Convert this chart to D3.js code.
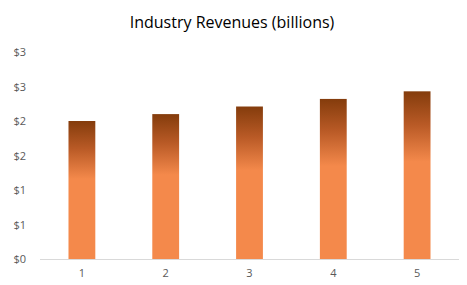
<!DOCTYPE html>
<html>
<head>
<meta charset="utf-8">
<script src="https://cdn.jsdelivr.net/npm/d3@7"></script>
<style>
  body { margin: 0; background: #fff; }
  svg { display: block; }
</style>
</head>
<body>
<svg width="467" height="285"></svg>
<script>
// data
var categories = ['1', '2', '3', '4', '5'];
var revenues = [2.00, 2.10, 2.21, 2.32, 2.43];
var yTicks = [0, 0.5, 1, 1.5, 2, 2.5, 3];
var yTickLabels = ['$0', '$1', '$1', '$2', '$2', '$3', '$3'];
var title = 'Industry Revenues (billions)';

var width = 467;
var height = 285;
var margin = {top: 52, bottom: 26, left: 40, right: 8};

var svg = d3.select('svg');

// gradient for bars
var grad = svg.append('defs').append('linearGradient')
    .attr('id', 'barGrad')
    .attr('x1', 0).attr('y1', 0).attr('x2', 0).attr('y2', 1);
grad.append('stop').attr('offset', '0%').attr('stop-color', '#843c0c');
grad.append('stop').attr('offset', '20%').attr('stop-color', '#b95a26');
grad.append('stop').attr('offset', '42%').attr('stop-color', '#f4894b');
grad.append('stop').attr('offset', '100%').attr('stop-color', '#f4894b');

//scales
var xScale = d3.scaleBand()
    .domain(categories)
    .range([margin.left, width - margin.right])
    .paddingInner(0.68)
    .paddingOuter(0.34);
var yScale = d3.scaleLinear()
    .domain([0, 3])
    .range([height - margin.bottom, margin.top]);

// title
svg.append('text')
    .attr('x', 232)
    .attr('y', 28)
    .attr('text-anchor', 'middle')
    .attr('font-family', 'Open Sans, sans-serif')
    .attr('font-size', 16)
    .attr('fill', '#000')
    .text(title);

// bars
svg.selectAll('rect.bar')
    .data(revenues)
    .enter().append('rect')
    .attr('class', 'bar')
    .attr('x', (d, i) => xScale(categories[i]))
    .attr('y', d => yScale(d))
    .attr('width', xScale.bandwidth())
    .attr('height', d => yScale(0) - yScale(d))
    .attr('fill', 'url(#barGrad)');

// axes
var yAxis = d3.axisLeft(yScale)
    .tickValues(yTicks)
    .tickFormat((d, i) => yTickLabels[i])
    .tickSize(0)
    .tickPadding(14);
var gy = svg.append('g')
    .attr('transform', 'translate(' + [margin.left, 0] + ')')
    .call(yAxis);
gy.select('.domain').remove();
gy.selectAll('text')
    .attr('font-family', 'Open Sans, sans-serif')
    .attr('font-size', 11)
    .attr('fill', '#595959');

var xAxis = d3.axisBottom(xScale)
    .tickSize(0)
    .tickPadding(10);
var gx = svg.append('g')
    .attr('transform', 'translate(' + [0, height - margin.bottom] + ')')
    .call(xAxis);
gx.select('.domain')
    .attr('stroke', '#d9d9d9')
    .attr('d', 'M' + margin.left + ',0.5H' + (width - margin.right));
gx.selectAll('text')
    .attr('font-family', 'Open Sans, sans-serif')
    .attr('font-size', 11)
    .attr('fill', '#595959');
</script>
</body>
</html>
